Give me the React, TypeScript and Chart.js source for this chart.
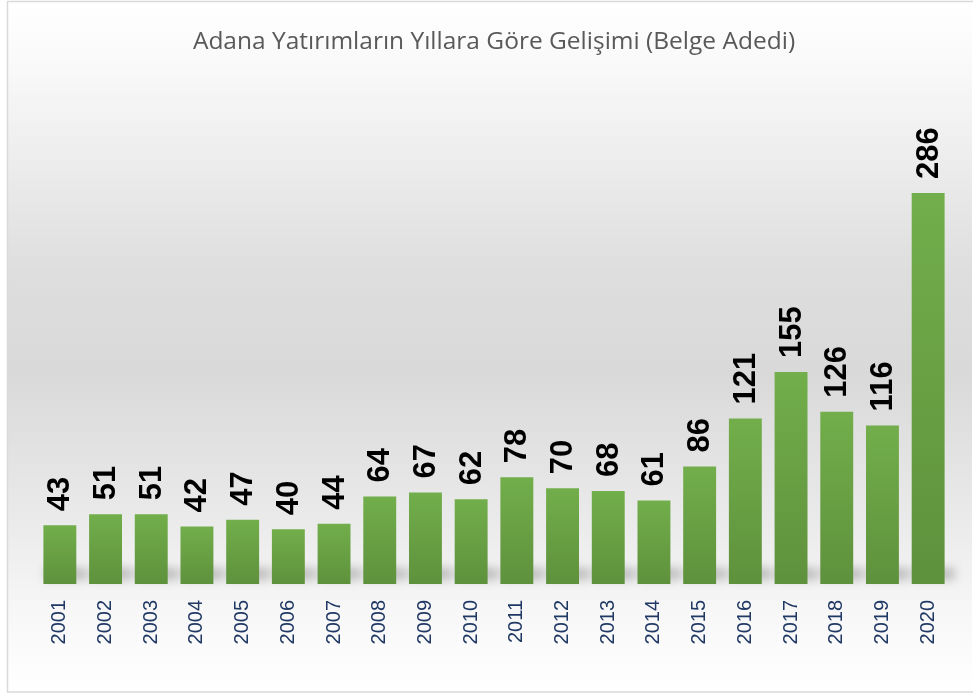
import React, { useEffect, useRef } from "react";
import { Chart, registerables } from "chart.js";

Chart.register(...registerables);

const years = ["2001","2002","2003","2004","2005","2006","2007","2008","2009","2010","2011","2012","2013","2014","2015","2016","2017","2018","2019","2020"];
const belgeAdedi = [43, 51, 51, 42, 47, 40, 44, 64, 67, 62, 78, 70, 68, 61, 86, 121, 155, 126, 116, 286];
const chartTitle = "Adana Yatırımların Yıllara Göre Gelişimi (Belge Adedi)";

const W = 973;
const H = 693;

const backgroundPlugin = {
  id: "bgPlugin",
  beforeDraw(chart: any) {
    const ctx = chart.ctx;
    const area = chart.chartArea;
    ctx.save();
    ctx.fillStyle = "#ffffff";
    ctx.fillRect(0, 0, W, H);
    const g = ctx.createLinearGradient(0, 2, 0, area.bottom + 16);
    g.addColorStop(0, "#ffffff");
    g.addColorStop(0.12, "#f8f8f8");
    g.addColorStop(0.45, "#dedede");
    g.addColorStop(0.62, "#d9d9d9");
    g.addColorStop(0.85, "#e9e9e9");
    g.addColorStop(1, "#f5f5f5");
    ctx.fillStyle = g;
    ctx.fillRect(8, 2, W - 9, area.bottom + 16 - 2);
    const g2 = ctx.createLinearGradient(0, area.bottom + 16, 0, H - 2);
    g2.addColorStop(0, "#f6f6f6");
    g2.addColorStop(1, "#ffffff");
    ctx.fillStyle = g2;
    ctx.fillRect(8, area.bottom + 16, W - 9, H - 2 - (area.bottom + 16));
    ctx.strokeStyle = "#d9d9d9";
    ctx.lineWidth = 1.5;
    ctx.strokeRect(7.5, 1.5, W + 5, H - 2.5);
    ctx.restore();
  },
  beforeDatasetsDraw(chart: any) {
    const ctx = chart.ctx;
    const meta = chart.getDatasetMeta(0);
    ctx.save();
    ctx.filter = "blur(5px)";
    ctx.fillStyle = "rgba(0,0,0,0.22)";
    meta.data.forEach((el: any) => {
      const w = el.width;
      ctx.fillRect(el.x - w / 2 + 2, el.base - 16, w + 8, 12);
    });
    ctx.restore();
  },
};

const labelPlugin = {
  id: "valueLabels",
  afterDatasetsDraw(chart: any) {
    const ctx = chart.ctx;
    const meta = chart.getDatasetMeta(0);
    ctx.save();
    ctx.fillStyle = "#000000";
    ctx.font = "bold 31px 'Liberation Sans', Arial, sans-serif";
    ctx.textAlign = "left";
    ctx.textBaseline = "middle";
    meta.data.forEach((el: any, i: number) => {
      ctx.save();
      ctx.translate(el.x + 1, el.y - 14);
      ctx.rotate(-Math.PI / 2);
      ctx.fillText(String(belgeAdedi[i]), 0, 0);
      ctx.restore();
    });
    ctx.restore();
  },
};

export default function App() {
  const ref = useRef<HTMLCanvasElement | null>(null);
  useEffect(() => {
    if (!ref.current) return;
    const chart = new Chart(ref.current, {
      type: "bar",
      data: {
        labels: years,
        datasets: [
          {
            label: "Belge Adedi",
            data: belgeAdedi,
            backgroundColor: (c: any) => {
              const ch = c.chart;
              const ys = ch.scales && ch.scales.y;
              if (!ys || c.dataIndex === undefined) return "#6aa443";
              const top = ys.getPixelForValue(belgeAdedi[c.dataIndex]);
              const base = ys.getPixelForValue(0);
              if (!isFinite(top) || !isFinite(base) || top === base) return "#6aa443";
              const g = ch.ctx.createLinearGradient(0, top, 0, base);
              g.addColorStop(0, "#72ae4b");
              g.addColorStop(1, "#5e913c");
              return g;
            },
            borderWidth: 0,
            barPercentage: 0.72,
            categoryPercentage: 1,
          },
        ],
      },
      options: {
        animation: false,
        responsive: false,
        maintainAspectRatio: false,
        layout: { padding: { left: 37, right: 22, top: 0, bottom: 0 } },
        plugins: {
          legend: { display: false },
          tooltip: { enabled: false },
          title: {
            display: true,
            text: chartTitle,
            color: "#595959",
            font: { family: "'Open Sans', sans-serif", size: 24.5, weight: "normal" },
            padding: { top: 27, bottom: 49 },
          },
        },
        scales: {
          x: {
            grid: { display: false, drawTicks: false },
            border: { display: false },
            ticks: {
              minRotation: 90,
              maxRotation: 90,
              padding: 16,
              color: "#203864",
              font: { family: "'Liberation Sans', Arial, sans-serif", size: 20 },
            },
            afterFit: (s: any) => {
              s.height = 109;
            },
          },
          y: {
            display: false,
            min: 0,
            max: 350,
          },
        },
      },
      plugins: [backgroundPlugin, labelPlugin],
    });
    return () => chart.destroy();
  }, []);
  return (
    <div style={{ position: "fixed", left: 0, top: 0, width: W, height: H }}>
      <canvas ref={ref} width={W} height={H} style={{ width: W, height: H, display: "block" }} />
    </div>
  );
}
